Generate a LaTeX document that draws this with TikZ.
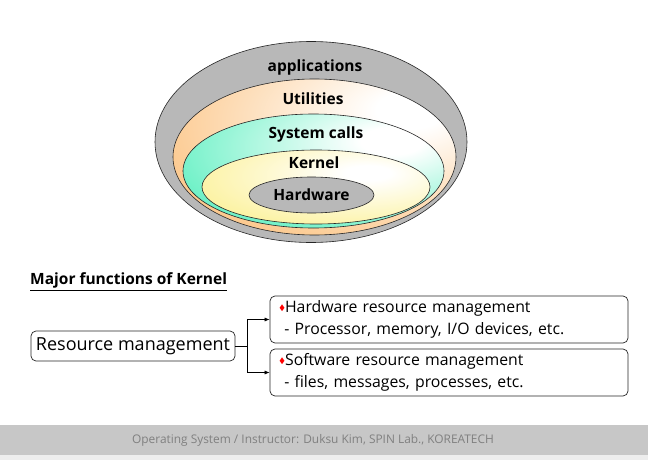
\documentclass[tikz,border=0pt]{standalone}
\usepackage{fontspec}
\usepackage{amssymb}
\usepackage{graphicx}
\setmainfont{Open Sans}
\usepackage{tikz}
\usetikzlibrary{shapes.geometric,arrows.meta}

\definecolor{utilorange}{RGB}{252,200,140}
\definecolor{sysmint}{RGB}{100,240,195}
\definecolor{kernyellow}{RGB}{252,242,160}
\pgfdeclareradialshading{utilshade}{\pgfpoint{18bp}{16bp}}{color(0bp)=(white); color(6bp)=(white); color(40bp)=(utilorange); color(100bp)=(utilorange)}
\pgfdeclareradialshading{sysshade}{\pgfpoint{16bp}{14bp}}{color(0bp)=(white); color(6bp)=(white); color(40bp)=(sysmint); color(100bp)=(sysmint)}
\pgfdeclareradialshading{kernshade}{\pgfpoint{12bp}{10bp}}{color(0bp)=(white); color(5bp)=(white); color(36bp)=(kernyellow); color(100bp)=(kernyellow)}

\begin{document}
\begin{tikzpicture}[x=1pt, y=-1pt,
  ring/.style={ellipse, draw=black!85, line width=0.6pt, inner sep=0pt},
  ringlabel/.style={font=\bfseries\fontsize{15.5}{18}\selectfont},
  funcbox/.style={draw=black!85, line width=0.7pt, rounded corners=5pt, fill=white},
  itembox/.style={funcbox, minimum width=358pt, minimum height=47pt, text width=340pt,
    align=left, font=\fontsize{15.8}{22}\selectfont}]
  \useasboundingbox[fill=white] (0,0) rectangle (648,460);

  % the layers
  \node[ring, fill=black!28, minimum width=312pt, minimum height=201pt] (apps) at (311,142) {};
  \node[ring, shading=utilshade, minimum width=283pt, minimum height=156pt] (util) at (314.5,157) {};
  \node[ring, shading=sysshade, minimum width=261pt, minimum height=114pt] (sysc) at (313.5,171) {};
  \node[ring, shading=kernshade, minimum width=228pt, minimum height=74pt] (kern) at (316,187) {};
  \node[ring, fill=black!28, minimum width=125pt, minimum height=36pt, ringlabel] (hw) at (311.5,195) {Hardware};

  \node[ringlabel] (appsl) at (315,67) {applications};
  \node[ringlabel] (utill) at (313,99) {Utilities};
  \node[ringlabel] (syscl) at (316,134) {System calls};
  \node[ringlabel] (kernl) at (314,163) {Kernel};

  % kernel functions
  \node[anchor=west, font=\bfseries\fontsize{15.5}{18}\selectfont, inner sep=0pt] (title) at (30,282) {\underline{Major functions of Kernel}};
  \node[funcbox, minimum width=204pt, minimum height=30pt, font=\fontsize{18}{20}\selectfont] (rm) at (133,346) {Resource management};
  \node[itembox] (hwm) at (449,319.5) {\textcolor{red}{\raisebox{2.5pt}{$\scriptscriptstyle\blacklozenge$}}Hardware resource management\\
    \ - Processor, memory, I/O devices, etc.};
  \node[itembox] (swm) at (449,372.5) {\textcolor{red}{\raisebox{2.5pt}{$\scriptscriptstyle\blacklozenge$}}Software resource management\\
    \ - files, messages, processes, etc.};

  \draw[-{Latex[length=5pt,width=4pt]}, line width=0.6pt] (rm.east) -- ++(12,0) |- (hwm.west);
  \draw[-{Latex[length=5pt,width=4pt]}, line width=0.6pt] (rm.east) -- ++(12,0) |- (swm.west);

  % footer
  \fill[black!22] (0,425) rectangle (648,455);
  \fill[black!7] (0,455) rectangle (648,460);
  \node[text=black!50, font=\fontsize{11.9}{13}\selectfont] (foot) at (313,440) {Operating System / Instructor: Duksu Kim, SPIN Lab., KOREATECH};
\end{tikzpicture}
\end{document}
